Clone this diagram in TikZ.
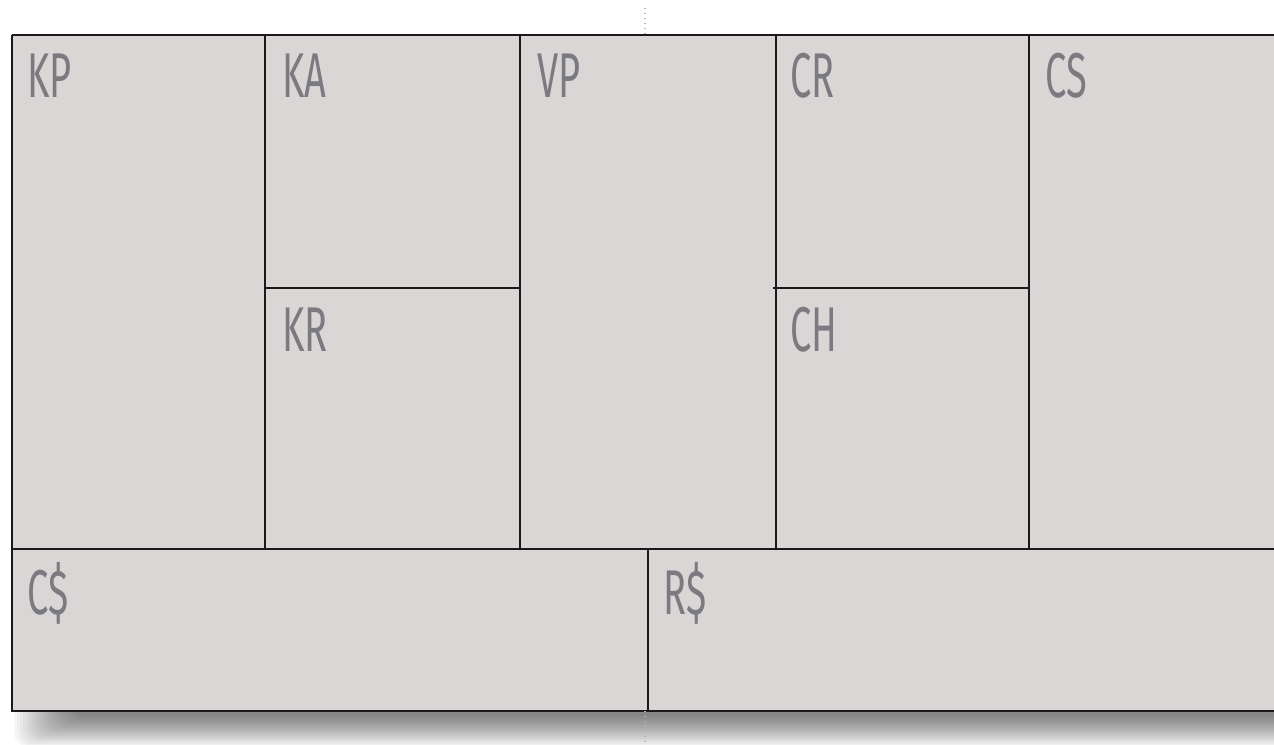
\documentclass[tikz,border=0pt]{standalone}
\usepackage{fontspec}
\setmainfont{Liberation Sans}
\newfontfamily\canvasfont[FakeStretch=0.6]{Fira Sans}
\usetikzlibrary{positioning}
\definecolor{bmcFill}{RGB}{218,214,213}
\definecolor{bmcLabel}{RGB}{122,122,128}
\definecolor{bmcLine}{RGB}{25,25,25}

\begin{document}
\begin{tikzpicture}[x=0.02cm, y=-0.02cm,
    lbl/.style={anchor=base west, inner sep=0pt, text=bmcLabel,
      font=\canvasfont\fontsize{36}{40}\selectfont},
    grid/.style={draw=bmcLine, line width=1.1pt},
    guide/.style={draw=gray!60, dotted, line width=0.8pt}
  ]
    \useasboundingbox (0,0) rectangle (1274,744);
    \clip (0,0) rectangle (1274,744);
    % soft shadow below the canvas
    \foreach \i in {0,...,19}
      \fill[black, opacity=0.033, rounded corners=8pt]
        (14+3*\i,700) rectangle (1320,747-1.6*\i);
    \fill[bmcFill] (12,35) rectangle (1320,711);
    % grid
    \draw[grid] (12,35) -- (1320,35);
    \draw[grid] (12,35) -- (12,711) -- (1320,711);
    \draw[grid] (12,549) -- (1320,549);
    \foreach \x in {265,520,776,1029}
      \draw[grid] (\x,35) -- (\x,549);
    \draw[grid] (265,288) -- (520,288);
    \draw[grid] (773,288) -- (1030,288);
    \draw[grid] (648,549) -- (648,711);
    \draw[guide] (645,8) -- (645,35);
    \draw[guide] (645,711) -- (645,744);
    % labels
    \node[lbl] (kp) at (27,97) {KP};
    \node[lbl] (ka) at (282,97) {KA};
    \node[lbl] (vp) at (537,97) {VP};
    \node[lbl] (cr) at (790,97) {CR};
    \node[lbl] (cs) at (1045,97) {CS};
    \node[lbl] (kr) at (282,351) {KR};
    \node[lbl] (ch) at (790,351) {CH};
    \node[lbl] (cost) at (27,614) {C\$};
    \node[lbl] (rev) at (663,614) {R\$};
  \end{tikzpicture}
\end{document}
